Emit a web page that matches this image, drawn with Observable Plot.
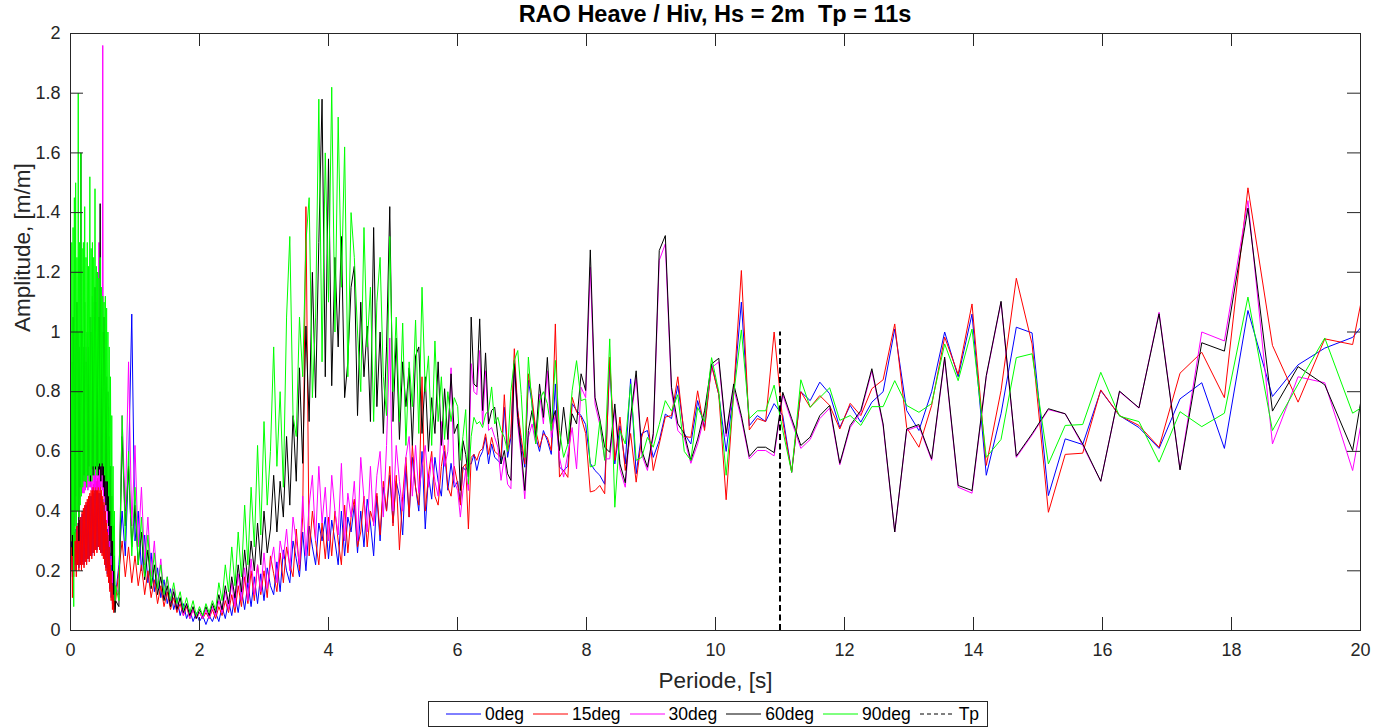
<!DOCTYPE html>
<html>
<head>
<meta charset="utf-8">
<script src="https://cdn.jsdelivr.net/npm/d3@7"></script>
<script src="https://cdn.jsdelivr.net/npm/@observablehq/plot@0.6"></script>
<style>
  body { margin: 0; background: #fff; font-family: "Liberation Sans", Arial, Helvetica, sans-serif; }
  #wrap { position: relative; width: 1390px; height: 728px; overflow: hidden; background: #fff; }
  #title { position: absolute; left: 70px; width: 1290px; top: 0; height: 28px; line-height: 28px; text-align: center; font-weight: bold; font-size: 23.5px; color: #000; white-space: pre; }
  #chart { position: absolute; left: 0; top: 26px; }
  #legend { position: absolute; left: 428px; top: 701px; width: 560px; height: 26px; border: 1px solid #262626; box-sizing: border-box; padding-left: 17px; display: flex; align-items: center; justify-content: flex-start; font-size: 17.5px; color: #000; background: #fff; }
  .item { display: flex; align-items: center; margin-right: 9px; white-space: nowrap; }
  .item svg { margin-right: 4px; }
</style>
</head>
<body>
<div id="wrap">
  <div id="title"></div>
  <div id="chart"></div>
  <div id="legend"></div>
</div>
<script>
// ---------- text ----------
const titleText = "RAO Heave / Hiv, Hs = 2m  Tp = 11s";
const xLabel = "Periode, [s]";
const yLabel = "Amplitude, [m/m]";
const xTicks = [0, 2, 4, 6, 8, 10, 12, 14, 16, 18, 20];
const xTickLabels = ["0", "2", "4", "6", "8", "10", "12", "14", "16", "18", "20"];
const yTicks = [0, 0.2, 0.4, 0.6, 0.8, 1, 1.2, 1.4, 1.6, 1.8, 2];
const yTickLabels = ["0", "0.2", "0.4", "0.6", "0.8", "1", "1.2", "1.4", "1.6", "1.8", "2"];
const seriesNames = ["0deg", "15deg", "30deg", "60deg", "90deg"];
const seriesColors = ["#0000ff", "#ff0000", "#ff00ff", "#000000", "#00ff00"];
const tpName = "Tp";
const tpPeriod = [11];
const tpTop = 1.0;

// ---------- periods [s] ----------
const periodsFine = [0.01,0.02,0.03,0.04,0.05,0.06,0.07,0.08,0.09,0.10,0.11,0.12,0.13,0.14,0.15,0.16,0.17,0.18,0.19,0.20,
  0.21,0.22,0.23,0.24,0.25,0.26,0.27,0.28,0.29,0.30,0.31,0.32,0.33,0.34,0.35,0.36,0.37,0.38,0.39,0.40,
  0.41,0.42,0.43,0.44,0.45,0.46,0.47,0.48,0.49,0.50,0.51,0.52,0.53,0.54,0.55,0.56,0.57,0.58,0.59,0.60,
  0.61,0.62,0.63,0.64,0.65,0.66,0.67,0.68,0.69,0.70];
const periodsMid = [0.75,0.80,0.85,0.90,0.95,
  1.00,1.05,1.10,1.15,1.20,1.25,1.30,1.35,1.40,1.45,1.50,1.55,1.60,1.65,1.70,1.75,1.80,1.85,1.90,1.95,
  2.00,2.05,2.10,2.15,2.20,2.25,2.30,2.35,2.40,2.45,2.50,2.55,2.60,2.65,2.70,2.75,2.80,2.85,2.90,2.95,
  3.00,3.05,3.10,3.15,3.20,3.25,3.30,3.35,3.40,3.45,3.50,3.55,3.60,3.65,3.70,3.75,3.80,3.85,3.90,3.95,
  4.00,4.05,4.10,4.15,4.20,4.25,4.30,4.35,4.40,4.45,4.50,4.55,4.60,4.65,4.70,4.75,4.80,4.85,4.90,4.95,
  5.00,5.05,5.10,5.15,5.20,5.25,5.30,5.35,5.40,5.45,5.50,5.55,5.60,5.65,5.70,5.75,5.80,5.85,5.90,5.95];
const periodsCoarse = [6.003,6.044,6.085,6.127,6.169,6.212,6.255,6.299,6.344,6.389,
  6.435,6.482,6.529,6.577,6.626,6.675,6.726,6.777,6.828,6.881,
  6.934,6.988,7.043,7.099,7.156,7.214,7.272,7.332,7.393,7.454,
  7.517,7.581,7.645,7.711,7.778,7.846,7.916,7.987,8.059,8.132,
  8.206,8.282,8.360,8.439,8.519,8.601,8.684,8.770,8.856,8.945,
  9.035,9.128,9.222,9.318,9.416,9.516,9.618,9.723,9.830,9.939,
  10.051,10.165,10.282,10.401,10.524,10.649,10.777,10.909,11.043,11.181,
  11.323,11.468,11.617,11.770,11.927,12.088,12.253,12.424,12.599,12.779,
  12.964,13.154,13.351,13.553,13.762,13.977,14.198,14.427,14.664,14.908,
  15.161,15.422,15.693,15.973,16.264,16.565,16.877,17.202,17.539,17.890,
  18.255,18.635,19.032,19.446,19.878,20.330];

// ---------- amplitudes [m/m] ----------
const amp0deg = [
  0.25,0.30,0.18,0.32,0.20,0.33,0.22,0.34,0.20,0.35,0.22,0.36,0.21,0.37,0.22,0.38,0.22,0.39,0.23,0.40,
  0.22,0.41,0.24,0.42,0.23,0.43,0.24,0.44,0.24,0.45,0.25,0.45,0.25,0.46,0.26,0.46,0.26,0.47,0.27,0.47,
  0.27,0.47,0.28,0.46,0.27,0.46,0.26,0.45,0.26,0.44,0.25,0.42,0.23,0.40,0.21,0.37,0.19,0.34,0.17,0.30,
  0.14,0.26,0.11,0.22,0.09,0.17,0.08,0.14,0.10,0.12,
  0.22,0.40,0.25,0.55,1.06,
  0.30,0.40,0.20,0.32,0.16,0.26,0.13,0.21,0.11,0.17,0.09,0.14,0.07,0.11,0.05,0.09,0.04,0.07,0.03,0.06,
  0.03,0.05,0.02,0.05,0.03,0.06,0.03,0.08,0.04,0.10,0.05,0.12,0.06,0.14,0.07,0.16,0.08,0.18,0.09,0.19,
  0.10,0.21,0.15,0.12,0.23,0.13,0.27,0.20,0.16,0.30,0.24,0.18,0.33,0.20,0.35,0.28,0.22,0.36,0.30,0.38,
  0.24,0.37,0.30,0.22,0.40,0.25,0.38,0.33,0.42,0.26,0.40,0.28,0.44,0.36,0.25,0.45,0.30,0.48,0.40,0.52,
  0.36,0.50,0.45,0.32,0.55,0.38,0.58,0.48,0.40,0.60,0.34,0.52,0.44,0.58,0.50,0.45,0.60,0.47,0.56,0.48,
  0.50,0.43,0.547,0.536,0.558,0.558,0.59,0.536,0.58,0.60,
  0.647,0.558,0.625,0.58,0.57,0.558,0.748,0.58,0.647,0.905,
  0.737,0.625,0.547,0.838,0.76,0.647,0.60,0.67,0.636,0.59,
  0.826,0.547,0.536,0.55,0.76,0.737,0.72,0.69,0.56,0.536,
  0.52,0.49,0.893,0.558,0.686,0.558,0.843,0.525,0.66,0.67,
  0.58,0.636,0.725,0.71,0.82,0.66,0.625,0.77,0.68,0.893,
  0.79,0.60,0.80,1.10,0.686,0.72,0.70,0.76,0.72,0.53,
  0.80,0.77,0.832,0.793,0.68,0.754,0.698,0.765,0.80,1.01,
  0.737,0.67,0.80,1.0,0.85,1.06,0.52,0.726,1.016,0.997,
  0.452,0.642,0.623,0.804,0.72,0.68,0.61,0.776,0.83,0.61,
  1.072,0.784,0.89,0.946,0.982,1.10];

const amp15deg = [
  0.20,0.28,0.11,0.30,0.18,0.32,0.20,0.33,0.18,0.35,0.22,0.36,0.20,0.37,0.22,0.38,0.20,0.40,0.22,0.41,
  0.21,0.42,0.23,0.43,0.22,0.44,0.24,0.45,0.23,0.46,0.25,0.47,0.24,0.48,0.26,0.49,0.25,0.50,0.27,0.50,
  0.26,0.51,0.28,0.50,0.27,0.49,0.26,0.47,0.25,0.45,0.24,0.43,0.22,0.40,0.20,0.37,0.18,0.33,0.16,0.28,
  0.13,0.24,0.10,0.20,0.07,0.15,0.06,0.12,0.07,0.10,
  0.20,0.30,0.18,0.28,0.16,
  0.25,0.15,0.22,0.12,0.20,0.11,0.17,0.09,0.15,0.08,0.13,0.07,0.11,0.06,0.09,0.05,0.08,0.04,0.07,0.04,
  0.06,0.04,0.06,0.04,0.07,0.04,0.08,0.05,0.10,0.06,0.12,0.06,0.15,0.08,0.18,0.09,0.20,0.10,0.22,0.12,
  0.20,0.11,0.25,0.19,0.13,0.26,0.16,0.28,0.22,0.18,0.34,0.20,0.38,1.42,0.25,0.40,0.30,0.22,0.36,0.24,
  0.38,0.25,0.40,0.30,0.22,0.42,0.26,0.38,0.44,0.28,0.33,0.45,0.28,0.40,0.36,0.46,0.32,0.50,0.40,0.55,
  0.35,0.52,0.27,0.45,0.58,0.38,0.62,0.48,0.42,0.85,0.40,0.52,0.60,0.45,0.42,0.55,0.62,0.48,0.45,0.55,
  0.49,0.42,0.547,0.558,0.34,0.58,0.59,0.57,0.60,0.61,
  0.659,0.59,0.647,0.60,0.59,0.58,0.79,0.60,0.659,0.944,
  0.737,0.647,0.558,0.86,0.781,0.67,0.614,0.659,0.647,0.603,
  1.027,0.514,0.536,0.513,0.781,0.732,0.715,0.66,0.464,0.469,
  0.486,0.458,0.916,0.57,0.715,0.536,0.66,0.497,0.647,0.715,
  0.536,0.625,0.715,0.72,0.85,0.65,0.647,0.803,0.67,0.887,
  0.79,0.438,0.80,1.206,0.672,0.71,0.70,1.0,0.70,0.53,
  0.80,0.748,0.787,0.754,0.675,0.761,0.72,0.81,0.84,1.027,
  0.68,0.614,0.754,0.983,0.858,1.094,0.553,0.804,1.18,0.96,
  0.396,0.59,0.594,0.806,0.72,0.687,0.614,0.862,0.932,0.78,
  1.483,0.955,0.765,0.977,0.958,1.45];

const amp30deg = [
  0.30,0.60,0.28,0.70,0.32,0.65,0.35,0.75,0.38,0.70,0.40,0.80,0.42,0.78,0.44,0.85,0.45,0.80,0.46,0.90,
  0.46,0.85,0.47,0.95,0.48,0.90,0.47,1.00,0.48,0.95,0.48,1.05,0.47,1.00,0.48,1.10,0.47,1.05,0.48,1.20,
  0.47,1.10,0.48,1.30,0.47,1.05,0.48,1.10,0.47,1.96,0.45,1.00,0.43,0.95,0.40,0.85,0.36,0.75,0.32,0.65,
  0.28,0.55,0.22,0.45,0.16,0.32,0.12,0.22,0.10,0.15,
  0.12,0.72,0.40,0.90,0.35,
  0.62,0.28,0.48,0.22,0.38,0.18,0.30,0.14,0.24,0.11,0.18,0.09,0.14,0.07,0.11,0.05,0.09,0.04,0.07,0.04,
  0.06,0.04,0.07,0.04,0.08,0.05,0.10,0.06,0.13,0.07,0.16,0.08,0.19,0.10,0.21,0.10,0.24,0.12,0.22,0.13,
  0.26,0.14,0.22,0.28,0.16,0.30,0.24,0.34,0.20,0.38,0.30,0.22,0.45,0.25,0.42,0.52,0.30,0.55,0.36,0.48,
  0.30,0.52,0.40,0.32,0.56,0.30,0.46,0.38,0.50,0.30,0.58,0.44,0.33,0.55,0.35,0.52,0.60,0.38,0.62,0.98,
  0.40,0.62,0.50,0.40,0.58,0.65,0.45,0.62,0.46,0.55,0.62,0.48,0.58,0.50,0.45,0.70,0.55,0.60,0.88,0.50,
  0.469,0.38,0.469,0.536,0.469,0.894,0.80,0.79,0.938,0.69,
  0.87,0.67,0.68,0.647,0.614,0.503,0.58,0.49,0.475,0.883,
  0.69,0.58,0.441,0.647,0.692,0.625,0.792,0.692,0.87,0.647,
  0.725,0.58,0.514,0.592,0.68,0.541,0.815,0.78,1.217,0.759,
  0.69,0.575,0.575,0.74,0.54,0.48,0.70,0.848,0.59,0.536,
  0.65,1.24,1.295,0.80,0.67,0.645,0.56,0.625,0.72,0.88,
  0.90,0.65,0.81,0.71,0.575,0.603,0.603,0.585,0.79,0.70,
  0.61,0.64,0.71,0.745,0.555,0.68,0.73,0.87,0.685,0.33,
  0.67,0.685,0.57,0.91,0.48,0.46,0.85,1.10,0.58,0.655,
  0.74,0.726,0.62,0.50,0.80,0.745,1.066,0.54,1.0,0.97,
  1.44,0.625,0.85,0.83,0.536,1.08];

const amp60deg = [
  0.28,0.90,0.25,1.05,0.30,1.20,0.40,1.00,0.45,1.10,0.48,1.00,0.30,0.95,0.48,1.60,0.50,1.00,0.50,0.95,
  0.52,1.10,0.50,0.90,0.53,1.00,0.52,0.95,0.55,1.05,0.50,1.00,0.54,1.12,0.52,1.05,0.55,1.15,0.54,1.10,
  0.55,1.20,0.52,1.05,0.54,1.43,0.50,1.10,0.52,1.00,0.48,1.05,0.45,0.95,0.42,0.85,0.40,0.80,0.35,0.65,
  0.30,0.55,0.25,0.45,0.20,0.35,0.12,0.25,0.06,0.10,
  0.08,0.65,0.35,0.55,0.28,
  0.42,0.22,0.33,0.17,0.27,0.14,0.22,0.12,0.18,0.10,0.15,0.08,0.13,0.07,0.11,0.06,0.09,0.05,0.08,0.04,
  0.07,0.05,0.08,0.05,0.09,0.06,0.12,0.07,0.15,0.09,0.18,0.11,0.22,0.13,0.27,0.16,0.30,0.20,0.36,0.22,
  0.40,0.26,0.34,0.52,0.33,0.50,0.38,0.65,0.42,0.72,0.50,0.88,0.56,1.02,0.70,1.20,0.78,1.30,1.78,0.85,
  1.58,0.82,1.25,0.95,1.32,0.78,0.90,1.15,1.22,0.72,1.10,0.85,1.02,0.70,1.35,0.75,1.00,0.66,0.95,1.42,
  0.70,0.98,0.64,0.90,0.75,0.88,0.62,0.92,0.95,0.66,0.85,0.60,0.78,0.66,0.90,0.62,0.81,0.64,0.86,0.66,
  0.692,0.469,0.636,0.59,0.514,1.05,0.826,0.816,1.044,0.737,
  0.93,0.692,0.737,0.748,0.647,0.558,0.603,0.525,0.503,0.894,
  0.714,0.603,0.469,0.67,0.737,0.647,0.826,0.714,0.915,0.692,
  0.737,0.603,0.748,0.625,0.726,0.692,0.86,0.804,1.275,0.781,
  0.709,0.614,0.597,0.759,0.558,0.495,0.715,0.87,0.603,0.547,
  0.66,1.273,1.323,0.815,0.692,0.66,0.57,0.641,0.736,0.893,
  0.912,0.66,0.826,0.72,0.583,0.614,0.614,0.596,0.798,0.71,
  0.62,0.648,0.72,0.754,0.56,0.687,0.737,0.877,0.692,0.33,
  0.675,0.69,0.575,0.916,0.486,0.469,0.854,1.103,0.584,0.659,
  0.743,0.726,0.625,0.50,0.802,0.746,1.061,0.538,0.964,0.936,
  1.415,0.735,0.884,0.823,0.603,1.19];

const amp90deg = [
  0.30,1.30,0.32,1.35,0.08,1.45,0.30,1.50,0.35,1.25,0.40,1.80,0.38,1.30,0.42,1.60,0.45,1.28,0.48,1.30,
  0.50,1.42,0.50,1.25,0.48,1.30,0.52,1.22,0.50,1.52,0.52,1.28,0.50,1.30,0.55,1.25,0.52,1.48,0.55,1.22,
  0.52,1.20,0.55,1.18,0.56,1.25,0.55,1.15,0.56,1.12,0.55,1.10,0.52,1.12,0.50,1.08,0.50,1.00,0.45,0.95,
  0.40,0.85,0.35,0.72,0.30,0.55,0.20,0.40,0.10,0.15,
  0.10,0.72,0.30,0.60,0.25,
  0.48,0.22,0.38,0.18,0.32,0.15,0.26,0.14,0.22,0.12,0.18,0.10,0.16,0.09,0.13,0.07,0.11,0.06,0.10,0.05,
  0.08,0.05,0.09,0.06,0.10,0.07,0.16,0.10,0.22,0.13,0.28,0.15,0.33,0.18,0.42,0.22,0.48,0.28,0.62,0.32,
  0.70,0.42,0.60,0.95,0.55,0.80,0.48,1.05,1.32,0.72,0.65,1.05,0.85,1.30,1.45,0.78,1.05,1.78,0.90,1.60,
  1.10,1.82,1.00,1.72,1.15,1.62,0.85,1.40,1.25,1.00,0.80,1.35,0.95,1.15,0.70,1.10,1.25,0.85,0.72,1.32,
  0.80,1.05,0.70,1.03,0.62,0.90,0.75,1.04,0.66,1.15,0.80,0.92,0.62,0.97,0.70,0.85,0.64,0.80,0.70,0.78,
  0.75,0.57,0.65,0.74,0.49,0.65,0.714,0.692,0.70,0.68,
  0.725,0.737,0.816,0.692,0.714,0.67,0.647,0.60,0.80,0.905,
  0.938,0.79,0.58,0.916,0.748,0.625,0.77,0.80,0.76,0.67,
  0.905,0.67,0.58,0.625,0.804,0.904,0.77,0.776,0.548,0.553,
  0.70,0.57,0.977,0.413,0.67,0.625,0.826,0.57,0.58,0.647,
  0.614,0.69,0.77,0.735,0.79,0.60,0.57,0.747,0.70,0.914,
  0.80,0.52,0.79,1.007,0.71,0.736,0.736,0.822,0.67,0.53,
  0.84,0.748,0.78,0.813,0.704,0.72,0.687,0.75,0.75,0.837,
  0.754,0.731,0.76,0.96,0.837,1.01,0.58,0.64,0.914,0.927,
  0.558,0.687,0.69,0.865,0.718,0.70,0.564,0.733,0.683,0.728,
  1.117,0.67,0.825,0.98,0.728,0.79];

// ---------- build ----------
const periods = periodsFine.concat(periodsMid, periodsCoarse);
const amplitudes = [amp0deg, amp15deg, amp30deg, amp60deg, amp90deg];
const problems = [];
amplitudes.forEach((a, i) => { if (a.length !== periods.length) problems.push(seriesNames[i] + ":" + a.length + "/" + periods.length); });

const rows = [];
amplitudes.forEach((vals, s) => {
  vals.forEach((a, i) => { if (i < periods.length) rows.push({series: seriesNames[s], T: periods[i], A: a}); });
});

document.getElementById("title").textContent = titleText + (problems.length ? "  [" + problems.join(" ") + "]" : "");

const W = 1390, H = 674;
const mL = 70, mR = 30, mT = 7, mB = 70;
const plotW = W - mL - mR, plotH = H - mT - mB;
const tickLen = 13;
const axisColor = "#262626";

const marks = [];
seriesNames.forEach((name, s) => {
  marks.push(Plot.line(rows.filter(d => d.series === name), {
    x: "T", y: "A", stroke: seriesColors[s], strokeWidth: 1, clip: true
  }));
});
marks.push(Plot.ruleX(tpPeriod, {x: d => d, y1: 0, y2: tpTop, stroke: "#000", strokeWidth: 2, strokeDasharray: "6,3.5"}));
// inward ticks on all four sides
marks.push(Plot.ruleX(xTicks, {x: d => d, insetTop: plotH - tickLen, stroke: axisColor}));
marks.push(Plot.ruleX(xTicks, {x: d => d, insetBottom: plotH - tickLen, stroke: axisColor}));
marks.push(Plot.ruleY(yTicks, {y: d => d, insetRight: plotW - tickLen, stroke: axisColor}));
marks.push(Plot.ruleY(yTicks, {y: d => d, insetLeft: plotW - tickLen, stroke: axisColor}));
marks.push(Plot.frame({stroke: axisColor}));
marks.push(Plot.axisX(xTicks, {tickSize: 0, tickPadding: 13, tickFormat: d => xTickLabels[xTicks.indexOf(d)], fontSize: 18, color: axisColor, label: null}));
marks.push(Plot.axisY(yTicks, {tickSize: 0, tickPadding: 10, tickFormat: d => yTickLabels[yTicks.indexOf(d)], fontSize: 18, color: axisColor, label: null}));
marks.push(Plot.text([xLabel], {text: d => d, frameAnchor: "bottom", lineAnchor: "middle", dy: 50, fontSize: 22.5, fill: axisColor}));
marks.push(Plot.text([yLabel], {text: d => d, frameAnchor: "left", lineAnchor: "middle", dx: -48, rotate: -90, fontSize: 22.5, fill: axisColor}));

const chart = Plot.plot({
  width: W, height: H,
  marginLeft: mL, marginRight: mR, marginTop: mT, marginBottom: mB,
  style: {fontFamily: '"Liberation Sans", Arial, Helvetica, sans-serif', background: "#fff", overflow: "visible"},
  x: {domain: [0, 20]},
  y: {domain: [0, 2]},
  marks
});
document.getElementById("chart").appendChild(chart);

// ---------- legend ----------
const legend = document.getElementById("legend");
const entries = seriesNames.map((n, i) => ({label: n, color: seriesColors[i], dash: null}))
  .concat([{label: tpName, color: "#000", dash: "4,3"}]);
entries.forEach(e => {
  const item = document.createElement("div");
  item.className = "item";
  item.innerHTML = `<svg width="35" height="10"><line x1="0" y1="5" x2="35" y2="5" stroke="${e.color}" stroke-width="1" ${e.dash ? `stroke-dasharray="${e.dash}"` : ""}/></svg><span>${e.label}</span>`;
  legend.appendChild(item);
});
</script>
</body>
</html>
